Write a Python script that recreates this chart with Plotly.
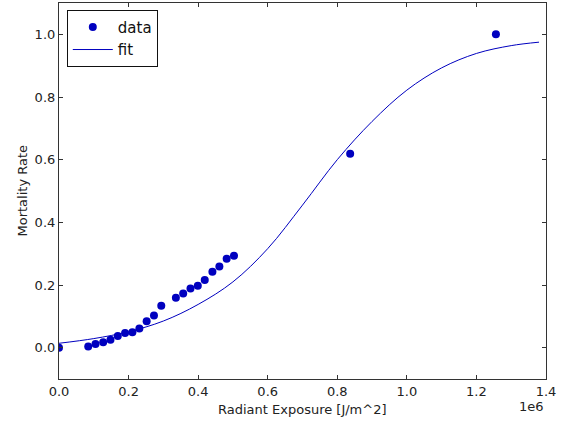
import plotly.graph_objects as go

# data points (x in J/m^2)
data_x = [0.0, 0.084e6, 0.105e6, 0.127e6, 0.148e6, 0.169e6, 0.190e6, 0.211e6, 0.231e6,
          0.252e6, 0.273e6, 0.294e6, 0.336e6, 0.357e6, 0.378e6, 0.399e6, 0.419e6,
          0.441e6, 0.461e6, 0.482e6, 0.503e6, 0.837e6, 1.256e6]
data_y = [0.0, 0.004, 0.012, 0.017, 0.025, 0.037, 0.047, 0.049, 0.061,
          0.084, 0.103, 0.134, 0.159, 0.173, 0.189, 0.198, 0.216,
          0.242, 0.259, 0.284, 0.293, 0.619, 1.0]

# fit curve
fit_x = [0.0, 0.1e6, 0.2e6, 0.3e6, 0.4e6, 0.5e6, 0.6e6, 0.7e6, 0.8e6, 0.9e6,
         1.0e6, 1.1e6, 1.2e6, 1.3e6, 1.38e6]
fit_y = [0.014, 0.029, 0.051, 0.085, 0.138, 0.210, 0.316, 0.455, 0.600, 0.722,
         0.822, 0.893, 0.939, 0.964, 0.975]

x_ticks = [0, 0.2e6, 0.4e6, 0.6e6, 0.8e6, 1.0e6, 1.2e6, 1.4e6]
x_tick_text = ["0.0", "0.2", "0.4", "0.6", "0.8", "1.0", "1.2", "1.4"]
y_ticks = [0.0, 0.2, 0.4, 0.6, 0.8, 1.0]
y_tick_text = ["0.0", "0.2", "0.4", "0.6", "0.8", "1.0"]

BLUE = "#0000bf"
FONT = "DejaVu Sans"
TXT = "#222222"

fig = go.Figure()
fig.add_trace(go.Scatter(x=data_x, y=data_y, mode="markers", name="data",
                         marker=dict(color=BLUE, size=8, line=dict(width=0))))
fig.add_trace(go.Scatter(x=fit_x, y=fit_y, mode="lines", name="fit",
                         line=dict(color=BLUE, width=1, shape="spline", smoothing=1.0)))

axis_common = dict(showline=True, linecolor="#333333", linewidth=1.2, mirror="allticks",
                   ticks="inside", ticklen=4, tickcolor="#333333", showgrid=False,
                   zeroline=False, automargin=False,
                   tickfont=dict(family=FONT, size=13, color=TXT))

fig.update_layout(
    width=563, height=421,
    margin=dict(l=59, r=17, t=3, b=42),
    paper_bgcolor="white", plot_bgcolor="white",
    font=dict(family=FONT, color=TXT),
    xaxis=dict(range=[0, 1.4e6], tickvals=x_ticks, ticktext=x_tick_text, **axis_common),
    yaxis=dict(range=[-0.1, 1.1], tickvals=y_ticks, ticktext=y_tick_text, **axis_common),
    legend=dict(x=0.016, y=0.982, xanchor="left", yanchor="top",
                bgcolor="white", bordercolor="#111111", borderwidth=1,
                font=dict(family=FONT, size=15, color="#111111"),
                tracegroupgap=0, itemwidth=40),
    showlegend=True,
)

fig.add_annotation(text="Radiant Exposure [J/m^2]", xref="paper", yref="paper",
                   x=0.5, y=-0.08, xanchor="center", yanchor="middle", showarrow=False,
                   font=dict(family=FONT, size=13, color=TXT))
fig.add_annotation(text="Mortality Rate", xref="paper", yref="paper",
                   x=-0.077, y=0.5, xanchor="center", yanchor="middle", textangle=-90,
                   showarrow=False, font=dict(family=FONT, size=13, color=TXT))
fig.add_annotation(text="1e6", xref="paper", yref="paper", x=1.0, y=-0.072,
                   xanchor="right", yanchor="middle", showarrow=False,
                   font=dict(family=FONT, size=13, color=TXT))

fig.write_html("out.html", config={"displayModeBar": False},
               post_script="document.body.style.margin='0';document.body.style.overflow='hidden';")
